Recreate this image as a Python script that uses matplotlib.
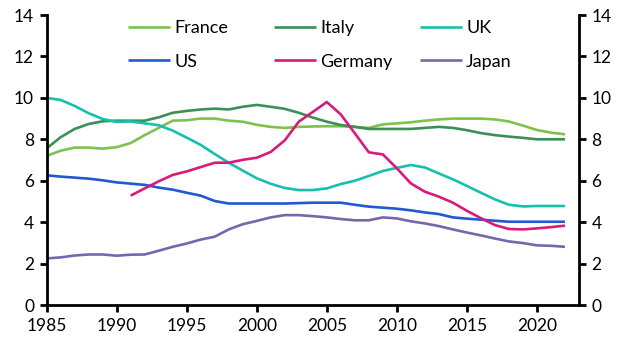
import matplotlib
matplotlib.use("Agg")
import matplotlib.pyplot as plt
from matplotlib.legend import Legend
import numpy as np

years = list(range(1985, 2023))

france = [7.2, 7.45, 7.6, 7.6, 7.55, 7.62, 7.82, 8.2, 8.55, 8.9, 8.92, 9.0, 9.0, 8.9, 8.85, 8.7,
          8.6, 8.55, 8.6, 8.62, 8.63, 8.63, 8.6, 8.55, 8.72, 8.77, 8.82, 8.9, 8.96, 9.0, 9.0, 9.0,
          8.96, 8.86, 8.66, 8.45, 8.32, 8.24]
italy = [7.56, 8.1, 8.5, 8.74, 8.87, 8.9, 8.9, 8.9, 9.06, 9.28, 9.37, 9.44, 9.48, 9.44, 9.57, 9.66,
         9.57, 9.47, 9.28, 9.05, 8.85, 8.69, 8.6, 8.5, 8.5, 8.5, 8.5, 8.55, 8.6, 8.55, 8.44, 8.3,
         8.2, 8.13, 8.07, 8.0, 8.0, 8.0]
uk = [10.0, 9.9, 9.61, 9.26, 8.98, 8.84, 8.86, 8.77, 8.68, 8.42, 8.08, 7.73, 7.29, 6.87, 6.49, 6.12,
      5.85, 5.65, 5.55, 5.55, 5.63, 5.84, 6.0, 6.23, 6.47, 6.62, 6.76, 6.64, 6.35, 6.07, 5.75, 5.42,
      5.1, 4.84, 4.76, 4.78, 4.78, 4.78]
us = [6.26, 6.2, 6.15, 6.1, 6.02, 5.92, 5.86, 5.8, 5.67, 5.57, 5.42, 5.28, 5.02, 4.9, 4.9, 4.9,
      4.9, 4.9, 4.92, 4.94, 4.94, 4.94, 4.84, 4.75, 4.7, 4.65, 4.57, 4.47, 4.39, 4.23, 4.17, 4.12,
      4.07, 4.02, 4.02, 4.02, 4.02, 4.02]
germany = [None] * 6 + [5.28, 5.63, 5.97, 6.28, 6.45, 6.66, 6.87, 6.87, 7.01, 7.11, 7.39, 7.95,
                        8.85, 9.32, 9.8, 9.2, 8.29, 7.37, 7.27, 6.6, 5.87, 5.47, 5.23, 4.94, 4.55,
                        4.19, 3.86, 3.67, 3.65, 3.7, 3.76, 3.83]
japan = [2.25, 2.3, 2.39, 2.44, 2.44, 2.38, 2.43, 2.44, 2.62, 2.81, 2.97, 3.16, 3.3, 3.65, 3.9, 4.06,
         4.23, 4.34, 4.34, 4.29, 4.23, 4.15, 4.09, 4.09, 4.23, 4.18, 4.04, 3.94, 3.81, 3.65, 3.5,
         3.36, 3.21, 3.07, 2.99, 2.88, 2.86, 2.81]

series = [
    ("France", france, "#7dc24b"),
    ("Italy", italy, "#3a9158"),
    ("UK", uk, "#17bfae"),
    ("US", us, "#1f5ad0"),
    ("Germany", germany, "#d81b7b"),
    ("Japan", japan, "#7866ad"),
]

plt.rcParams['font.family'] = ['Lato', 'DejaVu Sans']
fig = plt.figure(figsize=(6.3, 3.49), dpi=100)
ax = fig.add_axes([0.074, 0.126, 0.845, 0.831])

lines = {}
for name, vals, col in series:
    v = np.array([np.nan if x is None else x for x in vals], dtype=float)
    ln, = ax.plot(years, v, color=col, lw=1.9, label=name, solid_capstyle='butt')
    lines[name] = ln

ax.set_xlim(1985, 2023)
ax.set_ylim(0, 14)
ax.set_xticks(range(1985, 2021, 5))
ax.set_yticks(range(0, 15, 2))
ax.spines['top'].set_visible(False)
for s in ['left', 'right', 'bottom']:
    ax.spines[s].set_linewidth(2)
    ax.spines[s].set_color('black')
ax.tick_params(axis='both', direction='out', length=5, width=2, labelsize=12.5, colors='black')
ax.tick_params(axis='y', right=True, labelright=True, pad=4)
ax.tick_params(axis='x', pad=4)

columns = [("France", "US"), ("Italy", "Germany"), ("UK", "Japan")]
col_x = [128, 274, 420]
for names, xpx in zip(columns, col_x):
    leg = Legend(ax, [lines[n] for n in names], list(names), loc='center left',
                 bbox_to_anchor=(xpx / 630, 1 - 45 / 349), bbox_transform=fig.transFigure,
                 frameon=False, fontsize=13, handlelength=2.3, handletextpad=0.25,
                 labelspacing=0.95, borderpad=0, borderaxespad=0)
    ax.add_artist(leg)

fig.savefig("out.png", dpi=100)
